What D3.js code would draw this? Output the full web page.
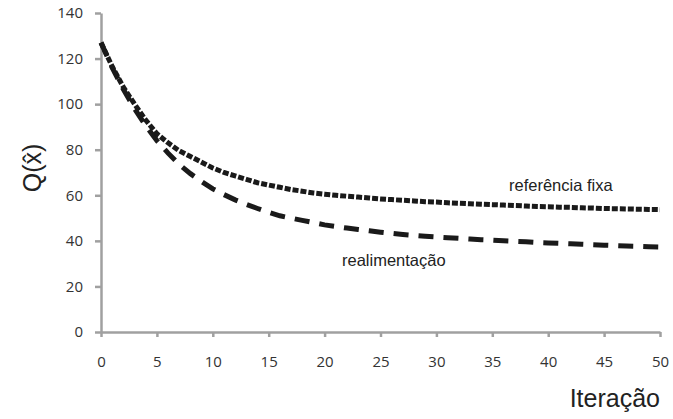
<!DOCTYPE html>
<html lang="pt">
<head>
    <meta charset="UTF-8">
    <title>Q(x̂) por iteração</title>
    <script src="https://d3js.org/d3.v7.min.js"></script>
    <style>
        body { margin: 0; background: #fff; }
        .tick text { font-family: "Open Sans", sans-serif; font-size: 15px; fill: #333; }
        .annot { font-family: "Liberation Sans", Arial, sans-serif; font-size: 16.5px; fill: #222; }
        .axis-label { font-family: "Liberation Sans", Arial, sans-serif; font-size: 25px; fill: #222; }
    </style>
</head>
<body>
<div id="chart"></div>
<script>
    // iterations 0..50
    var iteracoes = d3.range(0, 51);

    // "referência fixa" (dotted)
    var referenciaFixa = [127, 116.5, 107.5, 100, 93, 87, 83, 79.5, 77, 74.5,
        72, 70, 68.5, 67, 65.5, 64.5, 63.5, 62.5, 61.8, 61,
        60.5, 60, 59.6, 59.2, 58.8, 58.4, 58.1, 57.8, 57.5, 57.2,
        57, 56.7, 56.5, 56.3, 56.1, 55.9, 55.7, 55.5, 55.3, 55.1,
        55, 54.8, 54.7, 54.5, 54.4, 54.2, 54.1, 54, 53.9, 53.8, 53.7];

    // "realimentação" (dashed)
    var realimentacao = [127, 116, 106.5, 98, 90.5, 84, 78.5, 73.5, 69.5, 66,
        62.8, 60.3, 58, 56, 54.2, 52.5, 51, 50, 49, 48,
        47, 46.3, 45.6, 45, 44.4, 43.8, 43.3, 42.8, 42.4, 42,
        41.7, 41.4, 41.1, 40.8, 40.5, 40.3, 40, 39.8, 39.6, 39.3,
        39.1, 38.9, 38.7, 38.5, 38.3, 38.1, 37.9, 37.7, 37.6, 37.4, 37.3];

    var xTicks = [0, 5, 10, 15, 20, 25, 30, 35, 40, 45, 50];
    var yTicks = [0, 20, 40, 60, 80, 100, 120, 140];

    var width = 673, height = 419;

    var svg = d3.select("#chart")
        .append("svg")
        .attr("width", width)
        .attr("height", height);

    var x = d3.scaleLinear().domain([0, 50]).range([101, 660]);
    var y = d3.scaleLinear().domain([0, 140]).range([332, 13]);

    var axisColor = "#a0a0a0";

    // axes
    var xAxis = svg.append("g")
        .attr("transform", "translate(0," + y(0) + ")")
        .call(d3.axisBottom(x).tickValues(xTicks).tickSize(5).tickPadding(19).tickSizeOuter(0));

    var yAxis = svg.append("g")
        .attr("transform", "translate(" + x(0) + ",0)")
        .call(d3.axisLeft(y).tickValues(yTicks).tickSize(6).tickPadding(12).tickSizeOuter(0));

    [xAxis, yAxis].forEach(function (g) {
        g.select(".domain").attr("stroke", axisColor).attr("stroke-width", 2.5);
        g.selectAll(".tick line").attr("stroke", axisColor).attr("stroke-width", 2.5);
    });

    var line = d3.line()
        .x(function (d, i) { return x(iteracoes[i]); })
        .y(function (d) { return y(d); });

    svg.append("path")
        .datum(realimentacao)
        .attr("fill", "none")
        .attr("stroke", "#1a1a1a")
        .attr("stroke-width", 5)
        .attr("stroke-dasharray", "15,10")
        .attr("d", line);

    svg.append("path")
        .datum(referenciaFixa)
        .attr("fill", "none")
        .attr("stroke", "#1a1a1a")
        .attr("stroke-width", 5)
        .attr("stroke-dasharray", "6,2")
        .attr("d", line);

    // annotations
    svg.append("text").attr("class", "annot")
        .attr("x", 509).attr("y", 191)
        .text("referência fixa");

    svg.append("text").attr("class", "annot")
        .attr("x", 342).attr("y", 266)
        .text("realimentação");

    // axis labels
    svg.append("text").attr("class", "axis-label")
        .attr("text-anchor", "end")
        .attr("x", 660).attr("y", 407)
        .text("Iteração");

    svg.append("text").attr("class", "axis-label")
        .attr("text-anchor", "middle")
        .attr("transform", "translate(41,168) rotate(-90)")
        .text("Q(x\u0302)");
</script>
</body>
</html>
